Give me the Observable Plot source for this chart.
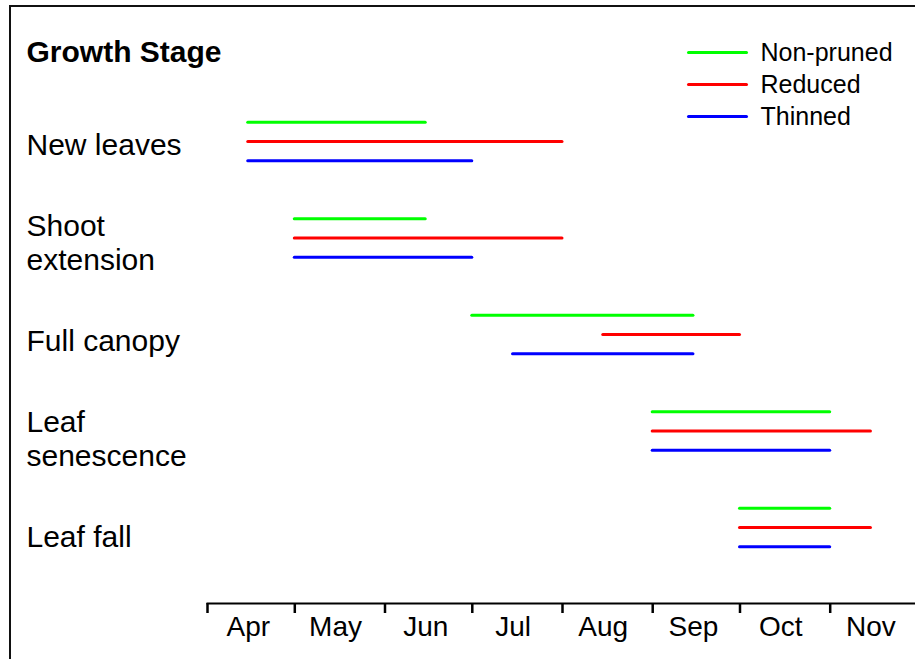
<!DOCTYPE html>
<html>
<head>
<meta charset="utf-8">
<script src="https://cdn.jsdelivr.net/npm/d3@7"></script>
<script src="https://cdn.jsdelivr.net/npm/@observablehq/plot@0.6"></script>
<style>
  html, body { margin: 0; padding: 0; background: #fff; }
  #wrap { position: relative; width: 915px; height: 659px; overflow: hidden; background: #fff; }
  #border { position: absolute; left: 9px; top: 5px; width: 1000px; height: 1000px; border: 2px solid #111; box-sizing: border-box; }
  #chart { position: absolute; left: 0; top: 0; }
</style>
</head>
<body>
<div id="wrap"><div id="border"></div><div id="chart"></div></div>
<script>
// ---- data ----
const stages = ["New leaves", "Shoot\nextension", "Full canopy", "Leaf\nsenescence", "Leaf fall"];
const series = ["Non-pruned", "Reduced", "Thinned"];
const seriesColors = ["#00ff00", "#ff0000", "#0000ff"];
// start / end dates (month-day) per growth stage
const nonPrunedStart = ["04-15", "05-01", "07-01", "09-01", "10-01"];
const nonPrunedEnd   = ["06-15", "06-15", "09-15", "11-01", "11-01"];
const reducedStart   = ["04-15", "05-01", "08-15", "09-01", "10-01"];
const reducedEnd     = ["08-01", "08-01", "10-01", "11-15", "11-15"];
const thinnedStart   = ["04-15", "05-01", "07-15", "09-01", "10-01"];
const thinnedEnd     = ["07-01", "07-01", "09-15", "11-01", "11-01"];
const monthLabels = ["Apr", "May", "Jun", "Jul", "Aug", "Sep", "Oct", "Nov"];
const monthStartDays = ["04-01", "05-01", "06-01", "07-01", "08-01", "09-01", "10-01", "11-01"];
const monthLabelDays = ["04-15", "05-15", "06-15", "07-15", "08-15", "09-15", "10-15", "11-15"];
const xDomainDays = ["04-01", "12-01"];

// ---- build table ----
const parse = s => new Date(`2021-${s}T00:00:00Z`);
const startsBySeries = [nonPrunedStart, reducedStart, thinnedStart];
const endsBySeries = [nonPrunedEnd, reducedEnd, thinnedEnd];
const rows = [];
series.forEach((s, si) => {
  stages.forEach((st, i) => {
    rows.push({series: s, y: i + (si - 1) * 0.2, x1: parse(startsBySeries[si][i]), x2: parse(endsBySeries[si][i])});
  });
});
const months = monthLabels.map((m, i) => ({label: m, x: parse(monthLabelDays[i])}));

const hline = {draw(context, size) { context.moveTo(-29, 0); context.lineTo(29, 0); }};

const W = 915, H = 659;
const chart = Plot.plot({
  width: W,
  height: H,
  marginLeft: 207,
  marginRight: -2,
  marginTop: 0,
  marginBottom: 56,
  style: {fontFamily: "'Liberation Sans', Arial, sans-serif", fontSize: "24px", background: "transparent", overflow: "visible", color: "#000"},
  x: {type: "utc", domain: xDomainDays.map(parse), range: [207, 917], axis: null},
  y: {type: "linear", domain: [0, 4], range: [141, 527], axis: null},
  color: {domain: series, range: seriesColors},
  marks: [
    Plot.ruleY(rows, {x1: "x1", x2: "x2", y: "y", stroke: "series", strokeWidth: 3, strokeLinecap: "round"}),
    Plot.frame({anchor: "bottom", stroke: "#000", strokeWidth: 2}),
    Plot.axisX({ticks: monthStartDays.map(parse), tickSize: 10, tickFormat: () => "", label: null, stroke: "#000", strokeWidth: 2.5}),
    Plot.text(months, {x: "x", text: "label", frameAnchor: "bottom", lineAnchor: "middle", dy: 24, fontSize: 28, fill: "#000"}),
    Plot.text(stages, {y: (d, i) => i * 1.015 + 0.02, text: d => d, frameAnchor: "left", dx: -181, dy: 1, lineAnchor: "middle", textAnchor: "start", fontSize: 30, lineHeight: 1.13, fill: "#000"}),
    Plot.text(["Growth Stage"], {frameAnchor: "top-left", dx: -181, dy: 52, lineAnchor: "middle", textAnchor: "start", fontSize: 30, fontWeight: "bold", fill: "#000"}),
    Plot.text([series.join("\n")], {frameAnchor: "top-right", dx: -157, dy: 82, lineAnchor: "middle", textAnchor: "start", fontSize: 25, lineHeight: 1.28, fill: "#000"}),
    ...series.map((s, i) => Plot.dot([s], {frameAnchor: "top-right", dx: -200, dy: 52 + 32 * i, symbol: hline, fill: "none", stroke: seriesColors[i], strokeWidth: 3, strokeLinecap: "round"}))
  ]
});
document.getElementById("chart").appendChild(chart);
</script>
</body>
</html>
